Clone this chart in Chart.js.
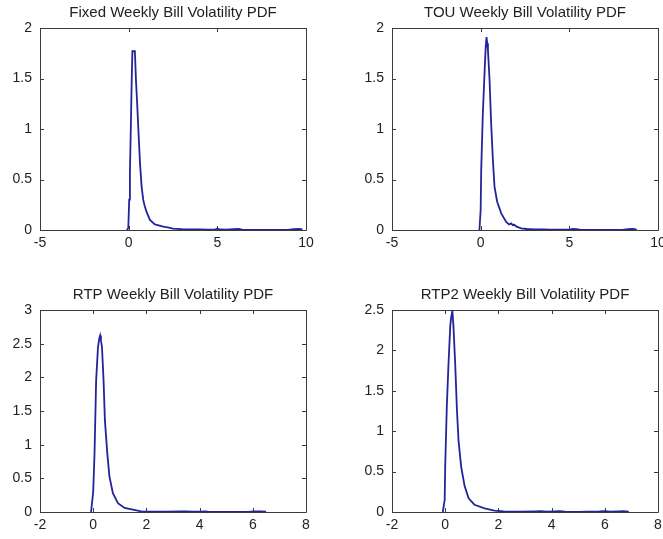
<!DOCTYPE html>
<html>
<head>
<meta charset="utf-8">
<script src="https://cdn.jsdelivr.net/npm/chart.js@4/dist/chart.umd.min.js"></script>
<style>
  html, body { margin: 0; padding: 0; background: #fff; }
  body { width: 663px; height: 539px; position: relative; overflow: hidden; }
  canvas { position: absolute; }
</style>
</head>
<body>
<canvas id="c1" width="331" height="257" style="left:0px;top:0px"></canvas>
<canvas id="c2" width="311" height="257" style="left:352px;top:0px"></canvas>
<canvas id="c3" width="331" height="257" style="left:0px;top:282px"></canvas>
<canvas id="c4" width="311" height="257" style="left:352px;top:282px"></canvas>
<script>
// ---- Data ----
const titles = [
  "Fixed Weekly Bill Volatility PDF",
  "TOU Weekly Bill Volatility PDF",
  "RTP Weekly Bill Volatility PDF",
  "RTP2 Weekly Bill Volatility PDF"
];

const fixedX = [-0.1,-0.02,0.03,0.07,0.12,0.17,0.21,0.35,0.41,0.48,0.54,0.64,0.73,0.82,0.9,1.01,1.2,1.48,1.95,2.2,2.5,3.0,3.5,4.0,4.5,4.9,5.0,5.1,5.5,5.9,6.2,6.4,7.0,8.0,9.0,9.3,9.6,9.8];
const fixedY = [0,0.02,0.3,0.56,1.0,1.47,1.77,1.77,1.49,1.25,1.02,0.66,0.43,0.30,0.24,0.18,0.10,0.056,0.033,0.025,0.013,0.008,0.006,0.005,0.004,0.006,0.015,0.005,0.003,0.008,0.01,0.004,0.002,0.002,0.002,0.008,0.01,0.006];

const touX = [-0.07,0.0,0.03,0.12,0.21,0.28,0.33,0.37,0.41,0.5,0.59,0.69,0.78,0.93,1.16,1.44,1.6,1.72,1.8,1.9,2.0,2.28,2.6,3.0,3.5,4.0,4.5,5.0,5.2,5.4,5.6,6.0,7.0,8.0,8.3,8.6,8.8];
const touY = [0,0.2,0.59,1.14,1.52,1.8,1.91,1.85,1.78,1.49,1.06,0.69,0.43,0.28,0.165,0.08,0.055,0.066,0.05,0.052,0.035,0.017,0.01,0.006,0.005,0.004,0.003,0.004,0.01,0.008,0.004,0.002,0.002,0.002,0.008,0.01,0.004];

const rtpX = [-0.08,0.0,0.05,0.11,0.18,0.23,0.26,0.29,0.33,0.39,0.44,0.53,0.61,0.74,0.93,1.18,1.49,1.8,2.2,2.8,3.3,3.5,3.7,4.0,4.2,4.3,5.0,5.8,6.05,6.3,6.5];
const rtpY = [0,0.3,0.87,1.95,2.45,2.58,2.62,2.55,2.45,1.95,1.36,0.87,0.53,0.28,0.13,0.06,0.034,0.01,0.006,0.004,0.008,0.01,0.004,0.006,0.01,0.004,0.002,0.002,0.008,0.01,0.004];

const rtp2X = [-0.09,-0.02,0.0,0.06,0.12,0.19,0.22,0.27,0.31,0.38,0.44,0.5,0.6,0.73,0.88,1.1,1.48,1.85,2.2,2.8,3.4,3.6,3.8,4.1,4.3,4.5,5.0,5.8,6.0,6.2,6.5,6.7,6.9];
const rtp2Y = [0,0.15,0.56,1.3,1.8,2.3,2.4,2.49,2.3,1.8,1.27,0.89,0.56,0.32,0.17,0.09,0.045,0.016,0.008,0.005,0.008,0.01,0.004,0.008,0.01,0.004,0.002,0.007,0.01,0.004,0.008,0.01,0.004];

const xRanges = [[-5,10,5],[-5,10,5],[-2,8,2],[-2,8,2]];
const yRanges = [[0,2,0.5],[0,2,0.5],[0,3,0.5],[0,2.5,0.5]];
const seriesX = [fixedX, touX, rtpX, rtp2X];
const seriesY = [fixedY, touY, rtpY, rtp2Y];
const padRight = [25, 5, 25, 5];

// ---- Styling ----
const LINE = '#24249a';
const AXIS = '#3a3a3a';
const TXT = '#222222';
const FONT = "'Liberation Sans', Arial, sans-serif";

const fmt = v => String(Number(Number(v).toFixed(3)));

const boxTicks = {
  id: 'boxTicks',
  beforeDatasetsDraw(chart) {
    const ctx = chart.ctx, a = chart.chartArea;
    const xs = chart.scales.x, ys = chart.scales.y;
    const L = 4;
    ctx.save();
    ctx.strokeStyle = AXIS;
    ctx.lineWidth = 1;
    ctx.beginPath();
    ctx.rect(Math.round(a.left) + 0.5, Math.round(a.top) + 0.5,
             Math.round(a.right - a.left), Math.round(a.bottom - a.top));
    xs.ticks.forEach(t => {
      const p = Math.round(xs.getPixelForValue(t.value)) + 0.5;
      ctx.moveTo(p, a.bottom); ctx.lineTo(p, a.bottom - L);
      ctx.moveTo(p, a.top); ctx.lineTo(p, a.top + L);
    });
    ys.ticks.forEach(t => {
      const p = Math.round(ys.getPixelForValue(t.value)) + 0.5;
      ctx.moveTo(a.left, p); ctx.lineTo(a.left + L, p);
      ctx.moveTo(a.right, p); ctx.lineTo(a.right - L, p);
    });
    ctx.stroke();
    ctx.restore();
  }
};

function makeChart(i) {
  const xs = seriesX[i], ys = seriesY[i];
  const pts = xs.map((x, k) => ({ x: x, y: ys[k] }));
  const [xmin, xmax, xstep] = xRanges[i];
  const [ymin, ymax, ystep] = yRanges[i];
  new Chart(document.getElementById('c' + (i + 1)), {
    type: 'scatter',
    data: {
      datasets: [{
        data: pts,
        showLine: true,
        borderColor: LINE,
        backgroundColor: LINE,
        borderWidth: 1.8,
        pointRadius: 0,
        tension: 0
      }]
    },
    options: {
      responsive: false,
      animation: false,
      events: [],
      layout: { padding: { left: 0, right: padRight[i], top: 0, bottom: 2 } },
      plugins: {
        legend: { display: false },
        tooltip: { enabled: false },
        title: {
          display: true,
          text: titles[i],
          fullSize: false,
          color: TXT,
          font: { family: FONT, size: 15, weight: 'normal', lineHeight: 1.2 },
          padding: { top: 4, bottom: 6 }
        }
      },
      scales: {
        x: {
          type: 'linear',
          min: xmin, max: xmax,
          grid: { display: false, drawTicks: false },
          border: { display: false },
          ticks: {
            stepSize: xstep, autoSkip: false, maxRotation: 0,
            color: TXT, padding: 5,
            font: { family: FONT, size: 14 },
            callback: fmt
          },
          afterFit(s) { s.height = 25; s.paddingLeft = 0; s.paddingRight = 0; }
        },
        y: {
          type: 'linear',
          min: ymin, max: ymax,
          grid: { display: false, drawTicks: false },
          border: { display: false },
          ticks: {
            stepSize: ystep, autoSkip: false,
            color: TXT, padding: 8,
            font: { family: FONT, size: 14 },
            callback: fmt
          },
          afterFit(s) { s.width = 40; s.paddingTop = 0; s.paddingBottom = 0; }
        }
      }
    },
    plugins: [boxTicks]
  });
}

for (let i = 0; i < 4; i++) makeChart(i);
</script>
</body>
</html>
